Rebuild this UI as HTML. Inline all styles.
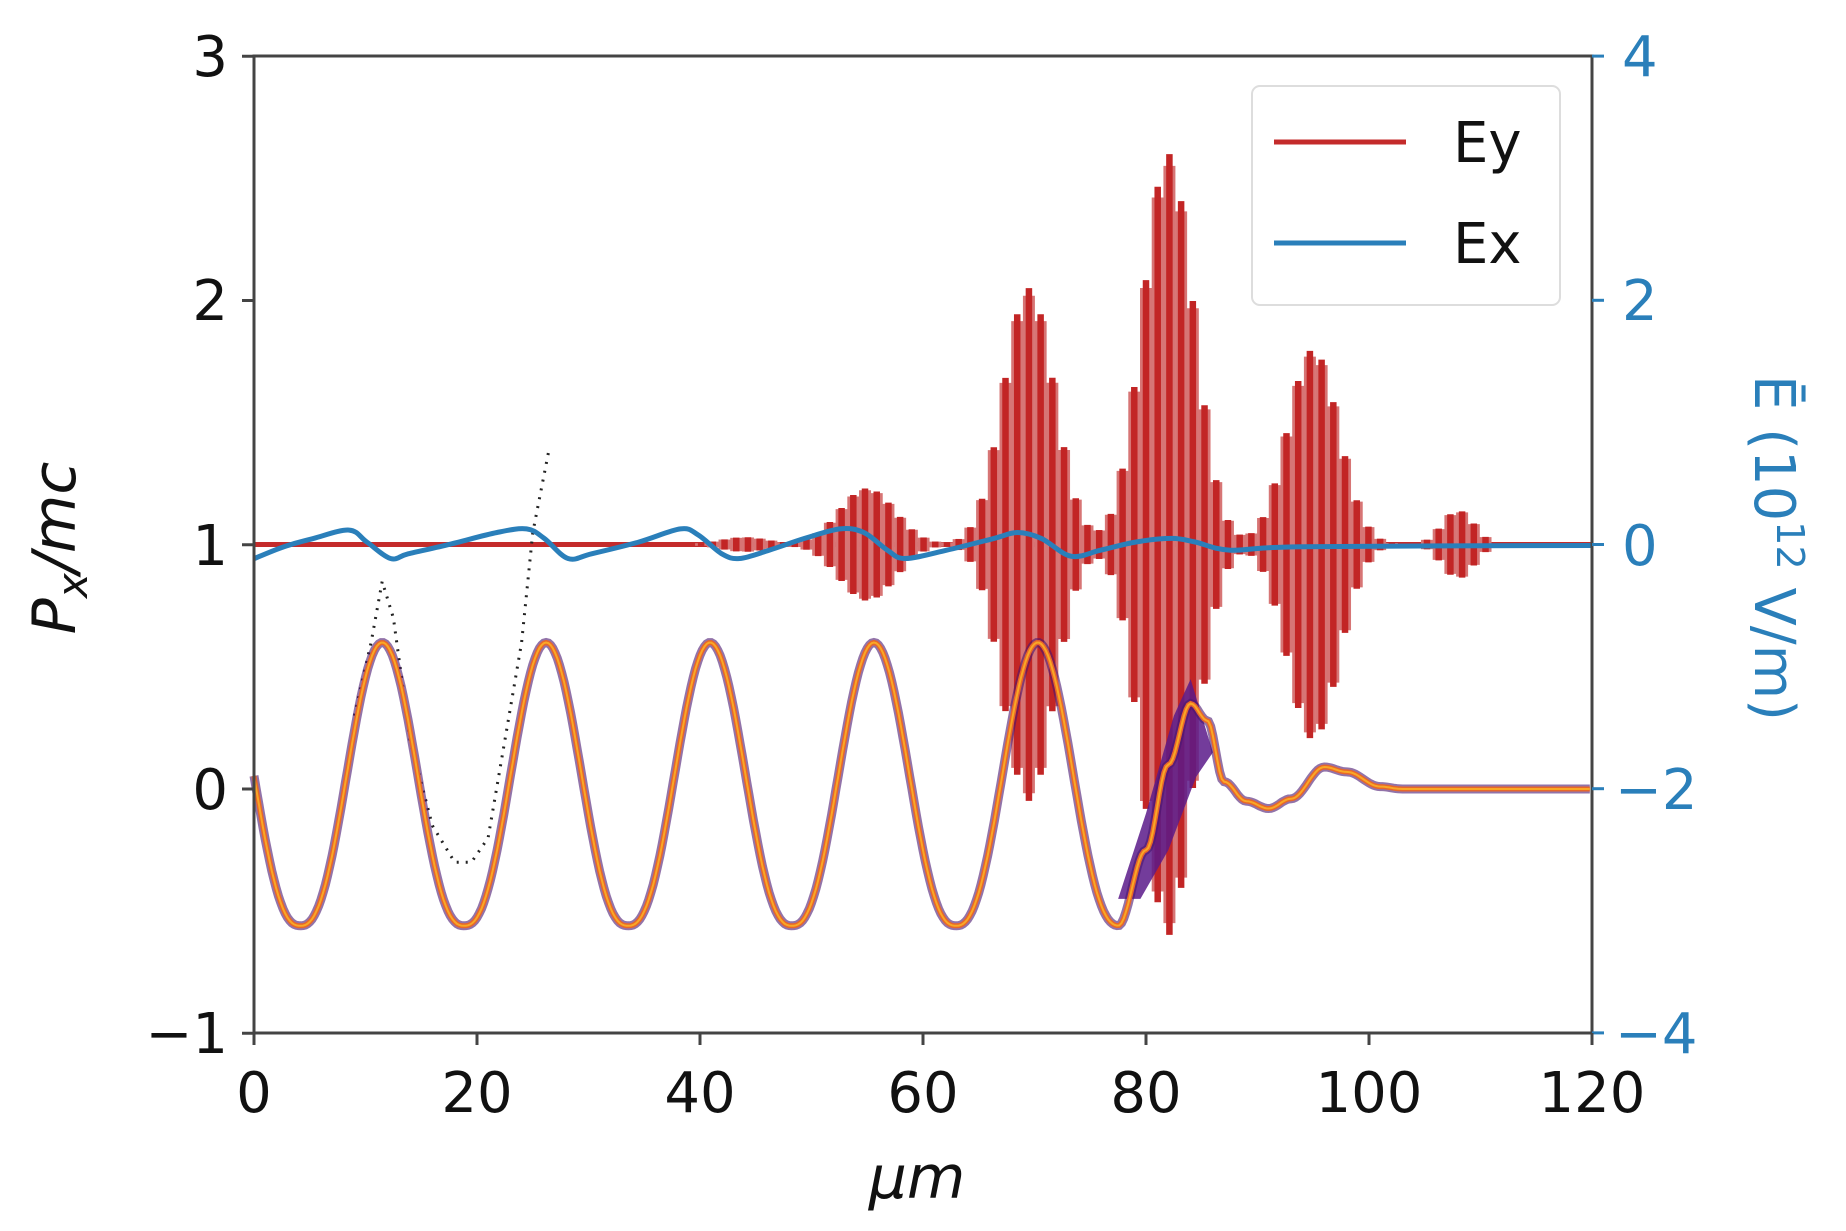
<!DOCTYPE html>
<html><head><meta charset="utf-8"><style>
body{margin:0;background:#fff;}
svg{display:block;font-family:"DejaVu Sans","Liberation Sans",sans-serif;}
</style></head><body>
<svg id="s" width="1846" height="1231" viewBox="0 0 1846 1231" xmlns="http://www.w3.org/2000/svg">
<rect width="1846" height="1231" fill="#fff"/>
<g id="ey"></g>
<g id="part"></g>
<path id="ex" fill="none" stroke="#2a7fba" stroke-width="5"/>
<rect x="254" y="56" width="1338" height="977" fill="none" stroke="#444" stroke-width="3"/>
<g id="ticks" stroke-width="3"></g>
<g font-size="56" fill="#111" text-anchor="end">
<text x="228" y="76">3</text><text x="228" y="320">2</text><text x="228" y="565">1</text><text x="228" y="809">0</text><text x="228" y="1053">−1</text>
</g>
<g font-size="56" fill="#2a7fba" text-anchor="start">
<text x="1622" y="76">4</text><text x="1622" y="320">2</text><text x="1622" y="565">0</text><text x="1615" y="809">−2</text><text x="1615" y="1053">−4</text>
</g>
<g font-size="56" fill="#111" text-anchor="middle">
<text x="254" y="1112">0</text><text x="477" y="1112">20</text><text x="700" y="1112">40</text><text x="923" y="1112">60</text><text x="1146" y="1112">80</text><text x="1369" y="1112">100</text><text x="1592" y="1112">120</text>
</g>
<text x="917" y="1198" font-size="60" font-style="italic" text-anchor="middle" fill="#111">μm</text>
<text transform="translate(75,548) rotate(-90)" font-size="60" font-style="italic" text-anchor="middle" fill="#111">P<tspan font-size="42" dy="12">x</tspan><tspan dy="-12">/mc</tspan></text>
<text transform="translate(1755,548) rotate(90)" font-size="56" text-anchor="middle" fill="#2a7fba">Ē (10<tspan font-size="38" dy="-22">12</tspan><tspan dy="22"> V/m)</tspan></text>
<rect x="1252" y="86" width="308" height="219" rx="8" fill="#fff" fill-opacity="0.85" stroke="#ddd" stroke-width="2"/>
<line x1="1274" y1="142" x2="1406" y2="142" stroke="#c42b2b" stroke-width="5"/>
<line x1="1274" y1="243" x2="1406" y2="243" stroke="#2a7fba" stroke-width="5"/>
<text x="1453" y="162" font-size="56" fill="#111">Ey</text>
<text x="1453" y="263" font-size="56" fill="#111">Ex</text>
</svg>
<script>
var X=function(u){return 254+u*11.15;},YL=function(v){return 789-v*244.25;},YR=function(v){return 544.5-v*122.1;};
var t=document.getElementById('ticks'),h='';
[3,2,1,0,-1].forEach(function(v){h+='<line x1="242" x2="254" y1="'+YL(v)+'" y2="'+YL(v)+'" stroke="#444"/>';});
[4,2,0,-2,-4].forEach(function(v){h+='<line x1="1592" x2="1604" y1="'+YR(v)+'" y2="'+YR(v)+'" stroke="#2a7fba"/>';});
[0,20,40,60,80,100,120].forEach(function(v){h+='<line y1="1033" y2="1045" x1="'+X(v)+'" x2="'+X(v)+'" stroke="#444"/>';});
t.innerHTML=h;
function env(x){var g=[[44,0.06,3],[55,0.46,3.5],[69.5,2.1,3.2],[82,3.2,3.2],[95,1.6,3.2],[108,0.28,2]],s=0;
g.forEach(function(a){s+=a[1]*Math.exp(-Math.pow((x-a[0])/a[2],2));});return x>111?0:s;}
h='<line x1="254" x2="1592" y1="544.5" y2="544.5" stroke="#c42b2b" stroke-width="5"/>';
var us=[];for(var u=38;u<111;u+=1.05){var e=env(u);if(e<0.01)continue;us.push([u,e]);}
us.forEach(function(q){h+='<line x1="'+X(q[0])+'" x2="'+X(q[0])+'" y1="'+YR(q[1]*0.97)+'" y2="'+YR(-q[1]*0.97)+'" stroke="#d77575" stroke-width="12"/>';});
us.forEach(function(q){h+='<line x1="'+X(q[0])+'" x2="'+X(q[0])+'" y1="'+YR(q[1])+'" y2="'+YR(-q[1])+'" stroke="#c22525" stroke-width="6.5"/>';});
document.getElementById('ey').innerHTML=h;
var ep=[[215,472],[240,462],[265,455],[295,448],[310,458],[330,472],[345,468],[380,460],[420,450],[445,447],[460,455],[480,472],[500,468],[540,458],[575,447],[590,452],[610,468],[625,472],[650,465],[680,455],[710,447],[730,450],[750,465],[765,472],[800,465],[840,455],[860,450],[880,455],[905,470],[930,465],[960,458],[990,455],[1010,458],[1040,465],[1100,462],[1345,461]].map(function(p){return [p[0]*1.1833,p[1]*1.1833];});
var sd='M'+ep[0][0]+','+ep[0][1];
for(var i=0;i<ep.length-1;i++){var p0=ep[Math.max(i-1,0)],p1=ep[i],p2=ep[i+1],p3=ep[Math.min(i+2,ep.length-1)];
sd+=' C'+(p1[0]+(p2[0]-p0[0])/6).toFixed(1)+','+(p1[1]+(p2[1]-p0[1])/6).toFixed(1)+' '+(p2[0]-(p3[0]-p1[0])/6).toFixed(1)+','+(p2[1]-(p3[1]-p1[1])/6).toFixed(1)+' '+p2[0].toFixed(1)+','+p2[1].toFixed(1);}
document.getElementById('ex').setAttribute('d',sd);
function sn(x){var c=(1+Math.cos(2*Math.PI*(x-11.5)/14.7))/2;return -0.56+1.16*Math.pow(c,1.25);}
var tail=[[77.5,sn(77.5)],[80,-0.25],[82,0.1],[84,0.35],[85.5,0.28],[87,0.03],[89,-0.05],[91,-0.08],[93,-0.04],[96,0.09],[98,0.07],[101,0.01],[103,0],[120,0]];
function p(x){if(x<77.5)return sn(x);
for(var i=0;i<tail.length-1;i++){if(x<=tail[i+1][0]){var a=tail[i],b=tail[i+1],f=(x-a[0])/(b[0]-a[0]);f=(1-Math.cos(Math.PI*f))/2;return a[1]+(b[1]-a[1])*f;}}return 0;}
var d='';for(var x=0;x<=120;x+=0.2){d+=(x?'L':'M')+X(x).toFixed(1)+','+YL(p(x)).toFixed(1);}
var br=[[9,0.3],[10.5,0.6],[11.5,0.85],[12.5,0.7],[14,0.2],[16,-0.15],[18,-0.3],[19.5,-0.3],[21,-0.2],[22.5,0.2],[24,0.6],[25,1.05],[26.5,1.4]];
var bd='M'+br.map(function(q){return X(q[0]).toFixed(1)+','+YL(q[1]).toFixed(1);}).join(' L');
var cloud='M'+X(77.5)+','+YL(-0.45)+' L'+X(80)+','+YL(-0.1)+' L'+X(82.5)+','+YL(0.3)+' L'+X(84)+','+YL(0.45)+' L'+X(86)+','+YL(0.15)+' L'+X(84.5)+','+YL(0.05)+' L'+X(82)+','+YL(-0.25)+' L'+X(79.5)+','+YL(-0.45)+'Z';
document.getElementById('part').innerHTML=
'<path d="'+cloud+'" fill="#5a1a8a" opacity="0.85"/>'+
'<path d="'+bd+'" fill="none" stroke="#222" stroke-width="3" stroke-dasharray="2 7"/>'+
'<path d="'+d+'" fill="none" stroke="#4a1670" stroke-width="9" opacity="0.6"/>'+
'<path d="'+d+'" fill="none" stroke="#e8672a" stroke-width="5"/>'+
'<path d="'+d+'" fill="none" stroke="#f9a825" stroke-width="2"/>';
</script>
</body></html>
